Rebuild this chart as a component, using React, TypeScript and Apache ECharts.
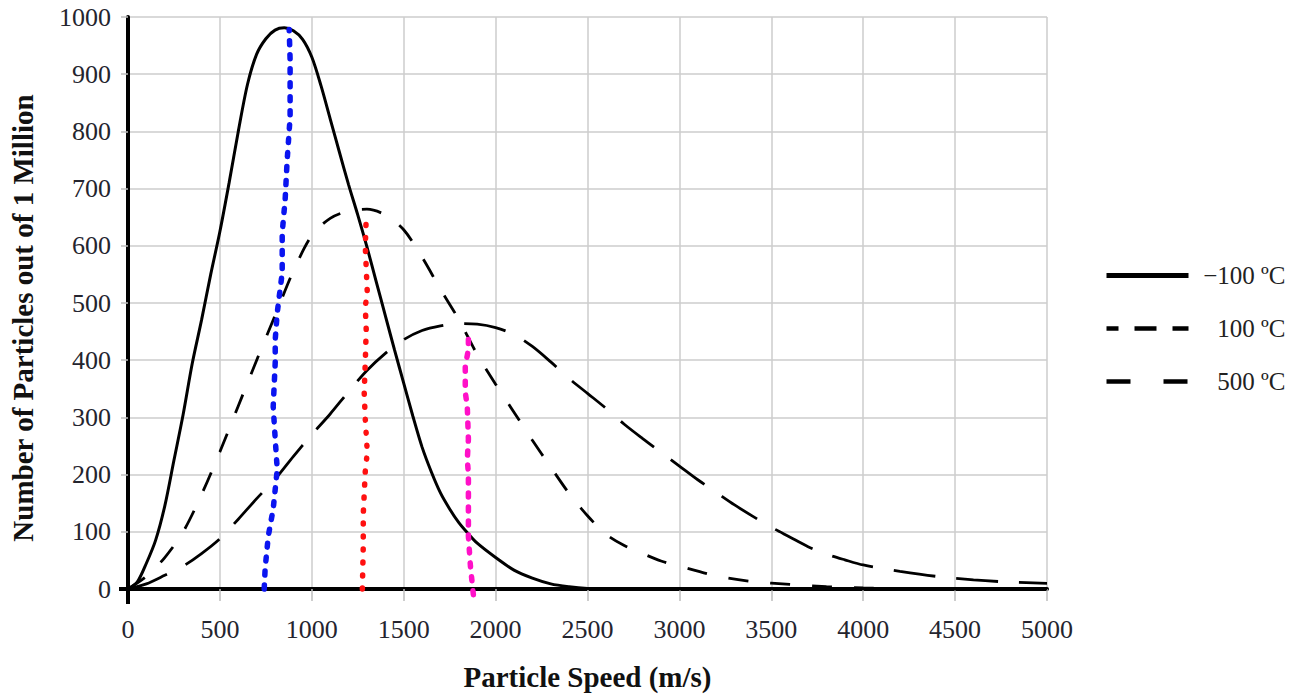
import React, { useEffect, useRef } from "react";
import * as echarts from "echarts";

// -100 ºC (solid)
const coldSpeed = [0, 50, 100, 150, 200, 250, 300, 350, 400, 450, 500, 550, 600, 650, 700, 750, 800, 850, 900, 950, 1000, 1050, 1100, 1150, 1200, 1250, 1300, 1350, 1400, 1450, 1500, 1550, 1600, 1650, 1700, 1750, 1800, 1850, 1900, 2000, 2100, 2200, 2300, 2400, 2500, 2600, 3000, 4000, 5000];
const coldCount = [0, 12, 45, 85, 145, 225, 305, 395, 470, 550, 625, 710, 800, 882, 935, 962, 977, 981, 976, 961, 930, 880, 822, 764, 707, 654, 598, 538, 478, 418, 360, 302, 248, 205, 168, 140, 116, 97, 80, 55, 33, 19, 9, 4, 1, 0, 0, 0, 0];

// 100 ºC (short dash)
const warmSpeed = [0, 100, 200, 300, 400, 500, 600, 700, 800, 900, 1000, 1100, 1200, 1300, 1400, 1500, 1600, 1700, 1800, 1900, 2000, 2100, 2200, 2300, 2400, 2500, 2600, 2700, 2800, 2900, 3000, 3200, 3400, 3600, 3800, 4000, 4500, 5000];
const warmCount = [0, 22, 55, 100, 165, 240, 320, 400, 478, 556, 618, 648, 661, 664, 654, 628, 580, 524, 471, 410, 358, 309, 260, 213, 167, 128, 96, 76, 62, 49, 40, 23, 13, 8, 4, 2, 0, 0];

// 500 ºC (long dash)
const hotSpeed = [0, 100, 200, 300, 400, 500, 600, 700, 800, 900, 1000, 1100, 1200, 1300, 1400, 1500, 1600, 1700, 1800, 1900, 2000, 2100, 2200, 2300, 2400, 2500, 2600, 2700, 2800, 2900, 3000, 3100, 3200, 3300, 3400, 3500, 3600, 3700, 3800, 3900, 4000, 4200, 4400, 4600, 4800, 5000];
const hotCount = [0, 9, 24, 40, 62, 88, 122, 158, 192, 232, 270, 306, 345, 382, 412, 436, 452, 460, 464, 463, 457, 445, 424, 397, 368, 342, 316, 288, 263, 239, 215, 191, 169, 147, 127, 108, 91, 74, 61, 51, 42, 31, 22, 16, 12, 10];

// hand-drawn coloured dotted marks
const blueSpeed = [741, 746, 763, 790, 812, 801, 790, 801, 801, 812, 839, 839, 855, 866, 882, 882, 877];
const blueCount = [0, 35, 92, 140, 209, 262, 319, 396, 436, 483, 553, 623, 681, 750, 825, 925, 978];
const redSpeed = [1275, 1280, 1280, 1291, 1302, 1291, 1285, 1291, 1296, 1291, 1302, 1291, 1296];
const redCount = [0, 75, 131, 206, 239, 297, 344, 396, 454, 494, 518, 599, 649];
const pinkSpeed = [1879, 1863, 1852, 1852, 1852, 1846, 1852, 1846, 1835, 1835, 1852, 1852];
const pinkCount = [-10, 40, 92, 157, 201, 227, 262, 319, 344, 389, 419, 450];

const seriesNames = ["\u2212100 \u00baC", "100 \u00baC", "500 \u00baC"];
const xTicks = [0, 500, 1000, 1500, 2000, 2500, 3000, 3500, 4000, 4500, 5000];

const FONT = "Liberation Serif";
const zip = (xs: number[], ys: number[]) => xs.map((x, i) => [x, ys[i]]);

export default function App() {
  const ref = useRef<HTMLDivElement>(null);
  useEffect(() => {
    if (!ref.current) return;
    const chart = echarts.init(ref.current, null, { renderer: "svg" });
    const dotted = (name: string, xs: number[], ys: number[], color: string, dash: number[]) => ({
      name,
      type: "line",
      data: zip(xs, ys),
      symbol: "none",
      clip: false,
      z: 5,
      lineStyle: { color, width: 5.5, type: dash, cap: "round", join: "round" },
    });
    const hiddenMark = { opacity: 0, borderWidth: 0 };
    chart.setOption({
      animation: false,
      backgroundColor: "#ffffff",
      grid: { left: 128, right: 249, top: 17, bottom: 108 },
      xAxis: {
        type: "value",
        min: 0,
        max: 5000,
        interval: 500,
        name: "Particle Speed (m/s)",
        nameLocation: "middle",
        nameGap: 73,
        nameTextStyle: { fontFamily: FONT, fontWeight: "bold", fontSize: 29, color: "#111" },
        axisLine: { show: true, onZero: false, lineStyle: { color: "#000", width: 4 } },
        axisTick: { show: true, length: 12, lineStyle: { color: "#bdbdbd", width: 1.5 } },
        axisLabel: { fontFamily: FONT, fontSize: 26, color: "#24242e", margin: 27, formatter: (v: number) => (xTicks.includes(v) ? String(v) : "") },
        splitLine: { show: true, lineStyle: { color: "#cccccc", width: 1.5 } },
      },
      yAxis: {
        type: "value",
        min: 0,
        max: 1000,
        interval: 100,
        name: "Number of Particles out of 1 Million",
        nameLocation: "middle",
        nameGap: 91,
        nameTextStyle: { fontFamily: FONT, fontWeight: "bold", fontSize: 29, color: "#111", padding: [0, 30, 0, 0] },
        axisLine: { show: true, lineStyle: { color: "#000", width: 4 } },
        axisTick: { show: true, length: 7, lineStyle: { color: "#bdbdbd", width: 1.5 } },
        axisLabel: { fontFamily: FONT, fontSize: 26, color: "#24242e", margin: 17, formatter: (v: number) => String(v) },
        splitLine: { show: true, lineStyle: { color: "#cccccc", width: 1.5 } },
      },
      legend: {
        orient: "vertical",
        left: 1099,
        top: 258,
        itemWidth: 82,
        itemHeight: 14,
        itemGap: 28,
        selectedMode: false,
        data: [
          { name: seriesNames[0], itemStyle: hiddenMark, lineStyle: { width: 5, color: "#000", type: "solid" } },
          { name: seriesNames[1], itemStyle: hiddenMark, lineStyle: { width: 4.5, color: "#000", type: [22, 16], dashOffset: 10 } },
          { name: seriesNames[2], itemStyle: hiddenMark, lineStyle: { width: 4.5, color: "#000", type: [24, 33] } },
        ],
        formatter: (name: string) => `{t|${name}}`,
        textStyle: {
          fontFamily: FONT,
          fontSize: 25,
          color: "#222",
          rich: { t: { width: 92, align: "right", fontFamily: FONT, fontSize: 25, color: "#222", lineHeight: 28 } },
        },
      },
      series: [
        {
          name: seriesNames[0],
          type: "line",
          data: zip(coldSpeed, coldCount),
          symbol: "none",
          smooth: 0.3,
          z: 3,
          lineStyle: { color: "#000", width: 3 },
        },
        {
          name: seriesNames[1],
          type: "line",
          data: zip(warmSpeed, warmCount),
          symbol: "none",
          smooth: 0.3,
          z: 3,
          lineStyle: { color: "#000", width: 2.8, type: [20, 22] },
        },
        {
          name: seriesNames[2],
          type: "line",
          data: zip(hotSpeed, hotCount),
          symbol: "none",
          smooth: 0.3,
          z: 3,
          lineStyle: { color: "#000", width: 2.8, type: [42, 21] },
        },
        dotted("blue", blueSpeed, blueCount, "#0a14f0", [4, 10]),
        dotted("red", redSpeed, redCount, "#ff1010", [1, 12]),
        dotted("pink", pinkSpeed, pinkCount, "#ff10c8", [4, 10]),
      ],
    });
    const p0 = chart.convertToPixel({ xAxisIndex: 0, yAxisIndex: 0 }, [0, 0]) as number[];
    if (p0) {
      chart.setOption({
        graphic: [
          { type: "line", z: 10, shape: { x1: p0[0], y1: p0[1], x2: p0[0], y2: p0[1] + 15 }, style: { stroke: "#000", lineWidth: 4 } },
          { type: "line", z: 10, shape: { x1: p0[0] - 9, y1: p0[1], x2: p0[0], y2: p0[1] }, style: { stroke: "#000", lineWidth: 4 } },
        ],
      });
    }
    return () => chart.dispose();
  }, []);
  return <div ref={ref} style={{ position: "fixed", left: 0, top: 0, width: 1296, height: 697 }} />;
}
